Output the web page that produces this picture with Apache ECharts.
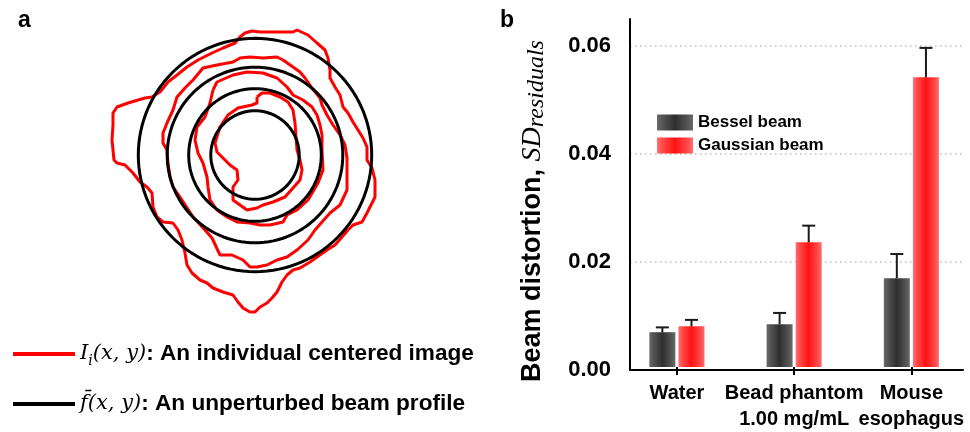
<!DOCTYPE html>
<html><head><meta charset="utf-8">
<script src="https://cdn.jsdelivr.net/npm/echarts/dist/echarts.min.js"></script>
<style>html,body{margin:0;padding:0;background:#fff}#c{width:970px;height:432px}</style>
</head><body><div id="c"></div>
<script>
// ---------- Panel b data ----------
const categories = ['Water', 'Bead phantom\n1.00 mg/mL', 'Mouse\nesophagus'];
const besselValues = [0.0065, 0.0080, 0.0166];
const besselErrors = [0.0009, 0.0021, 0.0045];
const gaussianValues = [0.0076, 0.0233, 0.0541];
const gaussianErrors = [0.0012, 0.0031, 0.0055];
const yTicks = [0, 0.02, 0.04, 0.06];
const yMax = 0.065;

// ---------- Panel a data (beam frame, pixels, y downward) ----------
const beamCenter = [255, 155];
const profileRadii = [116.7, 87.8, 66.3, 44.2];
const contour1 = [[260,32],[293,32],[297,30],[308,35],[317,43],[325,50],[328,58],[330,70],[330,78],[335,87],[340,95],[343,107],[348,113],[353,122],[358,130],[363,138],[367,147],[367,160],[372,168],[375,180],[375,197],[370,207],[367,213],[362,222],[353,225],[348,230],[342,237],[335,245],[327,250],[317,257],[310,262],[300,268],[293,270],[287,275],[282,282],[277,292],[272,298],[267,303],[260,307],[255,312],[250,312],[243,308],[238,302],[233,295],[223,292],[213,288],[207,283],[200,280],[192,273],[187,265],[185,253],[182,240],[178,230],[173,223],[163,222],[157,217],[153,207],[152,193],[147,187],[140,182],[133,173],[125,165],[117,163],[114,160],[113,150],[112,140],[113,125],[113,113],[117,107],[128,103],[145,98],[152,97],[155,95],[160,92],[168,82],[177,75],[187,67],[198,60],[212,53],[223,48],[235,43],[240,37],[245,33],[252,31]];
const contour2 = [[193,80],[203,68],[217,65],[233,62],[240,58],[250,57],[263,58],[277,57],[283,60],[293,67],[300,72],[305,78],[312,88],[320,98],[322,105],[327,115],[333,125],[340,135],[345,145],[347,158],[347,175],[347,190],[340,205],[330,213],[322,222],[315,230],[308,240],[297,250],[287,257],[277,260],[267,265],[257,267],[250,267],[243,260],[232,255],[220,255],[212,238],[205,230],[193,217],[182,200],[173,187],[170,177],[168,163],[167,150],[163,143],[163,133],[167,123],[173,110],[177,97],[185,88]];
const contour3 = [[213,90],[217,82],[233,75],[247,72],[263,73],[277,78],[287,87],[293,95],[303,100],[312,107],[317,115],[320,125],[322,135],[322,150],[323,170],[318,183],[308,200],[297,210],[287,215],[283,222],[270,225],[260,225],[250,223],[237,222],[227,217],[217,210],[210,200],[208,187],[207,177],[203,163],[198,153],[195,140],[197,127],[205,117],[210,103]];
const contour4 = [[257,97],[262,93],[270,93],[280,97],[288,102],[293,110],[295,123],[296,137],[297,150],[300,160],[302,170],[300,180],[293,188],[285,197],[273,202],[263,205],[257,208],[247,210],[240,205],[233,200],[233,187],[238,180],[237,170],[230,165],[223,158],[217,152],[215,143],[220,127],[228,115],[238,108],[252,105],[257,103]];
const contours = [contour1, contour2, contour3, contour4];

// ---------- styles ----------
const SANS = 'Liberation Sans';
const BAR_WIDTH = 26;
const BAR_GAP = 0.12;
const BAR_OFFSET = (BAR_WIDTH * (1 + BAR_GAP)) / 2;
const CAP = 13;

const besselColor = new echarts.graphic.LinearGradient(0, 0, 1, 0, [
  {offset: 0, color: '#6a6a6a'}, {offset: 0.15, color: '#555555'},
  {offset: 0.5, color: '#2e2e2e'}, {offset: 0.85, color: '#555555'}, {offset: 1, color: '#6a6a6a'}]);
const gaussColor = new echarts.graphic.LinearGradient(0, 0, 1, 0, [
  {offset: 0, color: '#ff7070'}, {offset: 0.15, color: '#ff4a4a'},
  {offset: 0.5, color: '#ff1212'}, {offset: 0.85, color: '#ff4a4a'}, {offset: 1, color: '#ff7070'}]);

function closed(pts) { return pts.concat([pts[0]]); }
function circlePoints(c, r) {
  const pts = [];
  for (let a = 0; a <= 360; a += 3) {
    const t = a * Math.PI / 180;
    pts.push([c[0] + r * Math.cos(t), c[1] + r * Math.sin(t)]);
  }
  return pts;
}
function errorSeries(values, errors, sign) {
  return {
    type: 'custom', xAxisIndex: 0, yAxisIndex: 0, z: 4, silent: true,
    renderItem(params, api) {
      const i = api.value(0), v = api.value(1), e = api.value(2);
      const base = api.coord([i, v]);
      const top = api.coord([i, v + e]);
      const x = base[0] + sign * BAR_OFFSET;
      const st = {stroke: '#1a1a1a', lineWidth: 2};
      return {type: 'group', children: [
        {type: 'line', shape: {x1: x, y1: base[1], x2: x, y2: top[1]}, style: st},
        {type: 'line', shape: {x1: x - CAP / 2, y1: top[1], x2: x + CAP / 2, y2: top[1]}, style: st}
      ]};
    },
    data: values.map((v, i) => [i, v, errors[i]])
  };
}

const series = [];
contours.forEach(c => series.push({
  name: 'Ii', type: 'line', xAxisIndex: 2, yAxisIndex: 2, data: closed(c),
  showSymbol: false, symbol: 'none', clip: false, z: 2,
  color: '#ff0000', itemStyle: {color: '#ff0000'}, lineStyle: {color: '#ff0000', width: 3}
}));
profileRadii.forEach(r => series.push({
  name: 'fbar', type: 'line', xAxisIndex: 2, yAxisIndex: 2, data: circlePoints(beamCenter, r),
  showSymbol: false, symbol: 'none', clip: false, z: 3,
  color: '#000000', itemStyle: {color: '#000000'}, lineStyle: {color: '#000000', width: 3}
}));
series.push({
  name: 'Bessel beam', type: 'bar', xAxisIndex: 0, yAxisIndex: 0, data: besselValues,
  barWidth: BAR_WIDTH, barGap: (BAR_GAP * 100) + '%', itemStyle: {color: besselColor}, z: 2
});
series.push({
  name: 'Gaussian beam', type: 'bar', xAxisIndex: 0, yAxisIndex: 0, data: gaussianValues,
  barWidth: BAR_WIDTH, barGap: (BAR_GAP * 100) + '%', itemStyle: {color: gaussColor}, z: 2
});
series.push(errorSeries(besselValues, besselErrors, -1));
series.push(errorSeries(gaussianValues, gaussianErrors, 1));

const option = {
  animation: false,
  backgroundColor: '#ffffff',
  grid: [
    {left: 618.3, top: 19, width: 356, height: 351},
    {left: 630, top: 19, width: 333, height: 351},
    {left: 110, top: 25, width: 290, height: 290}
  ],
  xAxis: [
    {gridIndex: 0, type: 'category', data: categories,
      axisLine: {show: false},
      axisTick: {show: true, alignWithLabel: true, length: 8, lineStyle: {color: '#000', width: 2}},
      axisLabel: {color: '#000', fontFamily: SANS, fontWeight: 'bold', fontSize: 20, lineHeight: 26, margin: 13,
        interval: 0, hideOverlap: false},
      splitLine: {show: false}},
    {gridIndex: 1, type: 'value', min: 0, max: 1,
      axisLine: {show: true, onZero: false, lineStyle: {color: '#000', width: 2}},
      axisTick: {show: false}, axisLabel: {show: false}, splitLine: {show: false}},
    {gridIndex: 2, type: 'value', min: 110, max: 400, show: false}
  ],
  yAxis: [
    {gridIndex: 0, type: 'value', min: 0, max: yMax, show: false},
    {gridIndex: 1, type: 'value', min: 0, max: yMax, interval: 0.02,
      axisLine: {show: true, lineStyle: {color: '#000', width: 2}},
      axisTick: {show: false},
      axisLabel: {color: '#000', fontFamily: SANS, fontWeight: 'bold', fontSize: 22, margin: 19,
        showMaxLabel: false,
        formatter: v => yTicks.some(t => Math.abs(t - v) < 1e-9) ? v.toFixed(2) : ''},
      splitLine: {show: true, showMinLine: false, showMaxLine: false,
        lineStyle: {color: '#bdbdbd', width: 1.5, type: [1.5, 3.5]}}},
    {gridIndex: 2, type: 'value', min: 25, max: 315, inverse: true, show: false}
  ],
  legend: [
    {data: ['Bessel beam', 'Gaussian beam'], orient: 'vertical', left: 652, top: 109,
      icon: 'rect', itemWidth: 36, itemHeight: 16, itemGap: 6, selectedMode: false,
      itemStyle: {borderWidth: 0},
      textStyle: {color: '#000', fontFamily: SANS, fontWeight: 'bold', fontSize: 17}},
    {data: ['Ii', 'fbar'], orient: 'vertical', left: 8, top: 335,
      icon: 'rect', itemWidth: 62, itemHeight: 4, itemGap: 22, selectedMode: false,
      itemStyle: {borderWidth: 0},
      formatter: name => name === 'Ii'
        ? '{m|I}{sub|i}{m|(x, y)}{t|: An individual centered image}'
        : '{m|f\u0304}{m|(x, y)}{t|: An unperturbed beam profile}',
      textStyle: {color: '#000', lineHeight: 28,
        rich: {
          m: {fontFamily: 'DejaVu Serif', fontStyle: 'italic', fontSize: 21, color: '#000', lineHeight: 28},
          sub: {fontFamily: 'DejaVu Serif', fontStyle: 'italic', fontSize: 14, color: '#000', lineHeight: 14, verticalAlign: 'bottom'},
          t: {fontFamily: SANS, fontWeight: 'bold', fontSize: 22.6, color: '#000', lineHeight: 28}
        }}}
  ],
  graphic: [
    {type: 'text', x: 18, y: 20.5, style: {text: 'a', font: 'bold 23px "Liberation Sans"', fill: '#000', verticalAlign: 'middle'}},
    {type: 'text', x: 500, y: 20.5, style: {text: 'b', font: 'bold 23px "Liberation Sans"', fill: '#000', verticalAlign: 'middle'}},
    {type: 'text', x: 533, y: 211, rotation: Math.PI / 2,
      style: {text: '{b|Beam distortion, }{i|SD}{s|residuals}', align: 'center', verticalAlign: 'middle',
        rich: {
          b: {font: 'bold 27px "Liberation Sans"', fill: '#000', lineHeight: 32},
          i: {font: 'italic 28px "Liberation Serif"', fill: '#000', lineHeight: 32},
          s: {font: 'italic 24px "Liberation Serif"', fill: '#000', lineHeight: 22, verticalAlign: 'bottom'}
        }}}
  ],
  series: series
};
const chart = echarts.init(document.getElementById('c'), null, {renderer: 'canvas'});
chart.setOption(option);
</script></body></html>
